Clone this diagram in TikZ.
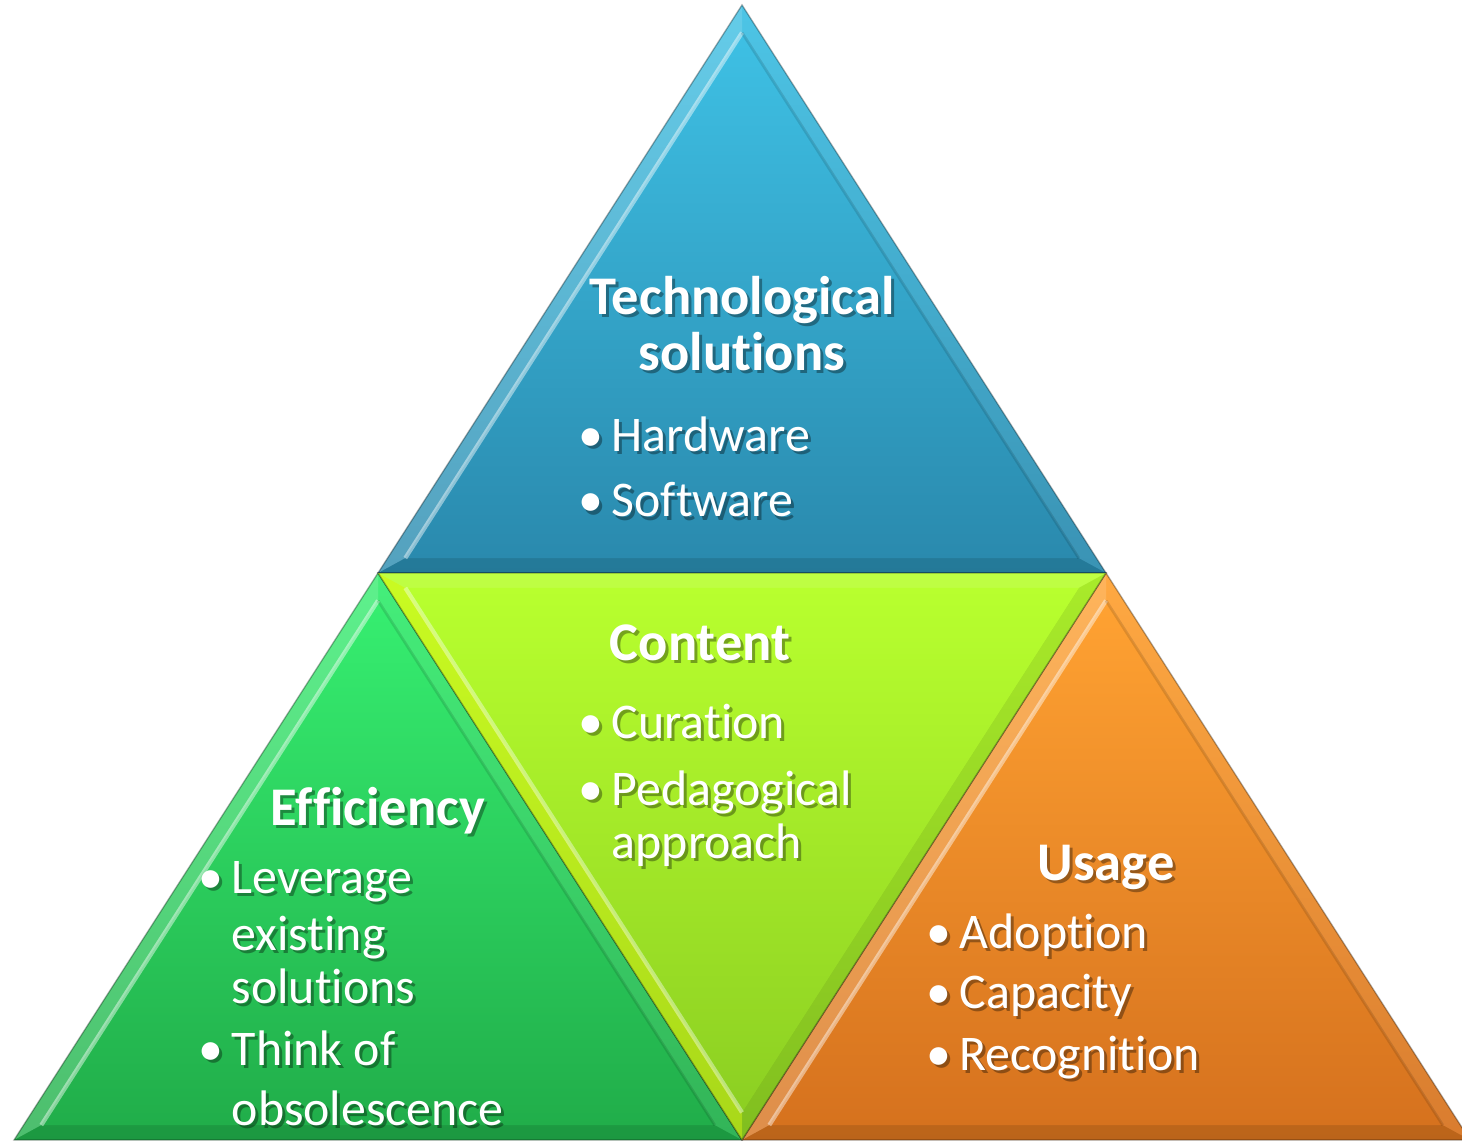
\documentclass[tikz,border=0pt]{standalone}
\usepackage{fontspec}
\setmainfont[Ligatures=NoCommon]{Carlito}
\usetikzlibrary{calc}

\definecolor{techtop}{HTML}{3EC0E4}
\definecolor{techbot}{HTML}{2A8AAE}
\definecolor{efftop}{HTML}{36EE70}
\definecolor{effbot}{HTML}{21AE4A}
\definecolor{conttop}{HTML}{B8FF2E}
\definecolor{contbot}{HTML}{8CCF22}
\definecolor{usetop}{HTML}{FFA232}
\definecolor{usebot}{HTML}{D6721E}

\newcommand{\bul}{\makebox[0.33cm][l]{\textbullet}}
% break the ti / ft ligatures of Carlito
\newcommand{\nl}{\kern0pt}

\begin{document}
\begin{tikzpicture}[
	head/.style={anchor=base, inner sep=0pt, font=\fontsize{15.5}{18}\selectfont\bfseries},
	item/.style={anchor=base west, inner sep=0pt, font=\fontsize{14.2}{16}\selectfont},
	rim/.style={draw=black, draw opacity=0.3, line width=0.4pt},
]
\useasboundingbox (0,0) rectangle (14.62,11.40);
\clip (0,0) rectangle (14.62,11.40);

% corners of the big triangle
\coordinate (T) at (7.42,11.35);
\coordinate (Lm) at (3.78,5.67);
\coordinate (Rm) at (11.06,5.67);
\coordinate (BL) at (0.14,0);
\coordinate (BM) at (7.42,0);
\coordinate (BR) at (14.70,0);
% centres of the small triangles
\coordinate (tin) at (7.42,7.66);
\coordinate (lin) at (3.78,1.99);
\coordinate (rin) at (11.06,1.99);
\coordinate (min) at (7.42,3.68);

% the three upright triangles
\foreach \a/\b/\c/\i/\col in {T/Lm/Rm/tin/tech, Lm/BL/BM/lin/eff, Rm/BM/BR/rin/use} {
	\coordinate (ia) at ($(\i)!0.925!(\a)$);
	\coordinate (ib) at ($(\i)!0.925!(\b)$);
	\coordinate (ic) at ($(\i)!0.925!(\c)$);
	\shade[top color=\col top, bottom color=\col bot] (\a) -- (\b) -- (\c) -- cycle;
	\fill[white, opacity=0.20] (\a) -- (\b) -- (ib) -- (ia) -- cycle;
	\fill[white, opacity=0.08] (\a) -- (\c) -- (ic) -- (ia) -- cycle;
	\fill[black, opacity=0.12] (\b) -- (\c) -- (ic) -- (ib) -- cycle;
	\shade[top color=\col top, bottom color=\col bot] (ia) -- (ib) -- (ic) -- cycle;
	\draw[white, opacity=0.45, line width=1.2pt] (ib) -- (ia);
	\draw[black, opacity=0.12, line width=0.8pt] (ia) -- (ic);
	\draw[rim] (\a) -- (\b) -- (\c) -- cycle;
}

% the middle one, upside down
\coordinate (ma) at ($(min)!0.925!(Lm)$);
\coordinate (mb) at ($(min)!0.925!(Rm)$);
\coordinate (mc) at ($(min)!0.925!(BM)$);
\shade[top color=conttop, bottom color=contbot] (Lm) -- (Rm) -- (BM) -- cycle;
\fill[yellow, opacity=0.25] (Lm) -- (BM) -- (mc) -- (ma) -- cycle;
\fill[white, opacity=0.10] (Lm) -- (Rm) -- (mb) -- (ma) -- cycle;
\fill[black, opacity=0.08] (Rm) -- (BM) -- (mc) -- (mb) -- cycle;
\shade[top color=conttop, bottom color=contbot] (ma) -- (mb) -- (mc) -- cycle;
\draw[white, opacity=0.40, line width=1.2pt] (ma) -- (mc);
\draw[rim] (Lm) -- (Rm) -- (BM) -- cycle;

% texts, shadow first
\foreach \s/\tc/\to in {0.03/black/0.35, 0/white/1} {
\begin{scope}[xshift=\s cm, yshift=-\s cm, nodes={text=\tc, text opacity=\to}]
	\node[head] (tech1) at (7.42,8.25) {Technological};
	\node[head] (tech2) at (7.42,7.69) {solut\nl ions};
	\node[item] (hw) at (5.78,6.88) {\bul Hardware};
	\node[item] (sw) at (5.78,6.23) {\bul Sof\nl tware};

	\node[head] (cont) at (7.00,4.80) {Content};
	\node[item] (cur) at (5.78,4.02) {\bul Curat\nl ion};
	\node[item] (ped) at (5.78,3.35) {\bul Pedagogical};
	\node[item] (appr) at (6.11,2.82) {approach};

	\node[head] (eff) at (3.78,3.15) {Efficiency};
	\node[item] (lev) at (1.98,2.47) {\bul Leverage};
	\node[item] (exs) at (2.31,1.90) {exist\nl ing};
	\node[item] (sol) at (2.31,1.37) {solut\nl ions};
	\node[item] (thk) at (1.98,0.75) {\bul Think of};
	\node[item] (obs) at (2.31,0.15) {obsolescence};

	\node[head] (use) at (11.06,2.60) {Usage};
	\node[item] (ado) at (9.26,1.92) {\bul Adopt\nl ion};
	\node[item] (cap) at (9.26,1.32) {\bul Capacity};
	\node[item] (rec) at (9.26,0.70) {\bul Recognit\nl ion};
\end{scope}
}
\end{tikzpicture}
\end{document}
